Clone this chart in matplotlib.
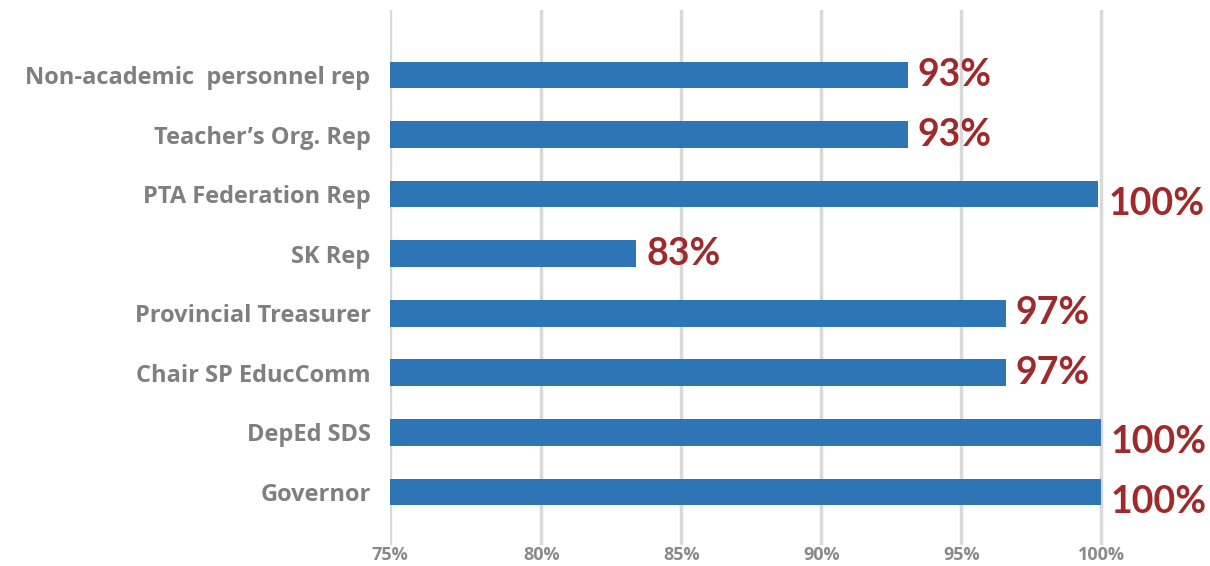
import matplotlib.pyplot as plt

# Attendance share per board member, bottom to top
members = ['Governor', 'DepEd SDS', 'Chair SP EducComm', 'Provincial Treasurer',
           'SK Rep', 'PTA Federation Rep', "Teacher\u2019s Org. Rep",
           'Non-academic  personnel rep']
attendance = [100, 100, 96.6, 96.6, 83.4, 99.9, 93.1, 93.1]
xticks = [75, 80, 85, 90, 95, 100]
axis_min = 74.6  # the axis starts a little left of the first 5% step

bar_color = '#2E75B6'
value_color = '#9E2A2B'
label_color = '#7F7F7F'

fig = plt.figure(figsize=(12.1, 5.66), dpi=100)
ax = fig.add_axes([390 / 1210, 21 / 566, 820 / 1210, 535 / 566])

ypos = list(range(len(members)))
ax.barh(ypos, [v - axis_min for v in attendance], left=axis_min, height=0.45,
        color=bar_color, zorder=3)

ax.set_xlim(axis_min, axis_min + 820 / 28.0)
ax.set_ylim(-0.89, 8.09)
# first gridline sits on the axis edge but is labelled 75%
ax.set_xticks([axis_min] + xticks[1:])
ax.set_xticklabels([f'{t}%' for t in xticks], fontsize=13, fontweight='bold',
                   color='#8A8A8A', family=['Open Sans', 'DejaVu Sans'])
ax.set_yticks(ypos)
ax.set_yticklabels(members, fontsize=17, fontweight='bold', color=label_color,
                   family=['Open Sans', 'DejaVu Sans'])
ax.tick_params(axis='both', length=0)
ax.tick_params(axis='y', pad=14)
ax.tick_params(axis='x', pad=1)

ax.grid(axis='x', color='#D9D9D9', linewidth=2.5, zorder=0)
for s in ax.spines.values():
    s.set_visible(False)

# value labels; full-attendance labels sit a bit lower to clear the edge
for y, v in zip(ypos, attendance):
    dy = -7 if v >= 99.9 else 0
    ax.annotate(f'{v:.0f}%', xy=(v, y), xytext=(7, dy), textcoords='offset points',
                ha='left', va='center', fontsize=27, fontweight='bold',
                color=value_color, family=['Lato', 'DejaVu Sans'],
                annotation_clip=False)

fig.savefig('out.png', dpi=100)
